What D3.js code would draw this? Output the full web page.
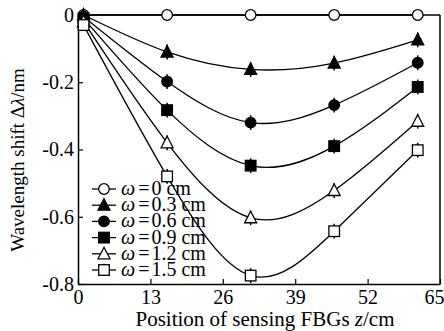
<!DOCTYPE html>
<html><head><meta charset="utf-8">
<script src="https://cdn.jsdelivr.net/npm/d3@7"></script>
<style>body{margin:0;background:#fff}svg{display:block}svg text{font-family:"Liberation Serif","Times New Roman",serif !important;fill:#000}</style>
</head><body><div id="c"></div>
<script>
const zPositions = [1, 16, 31, 46, 61];
const omegaLabels = ["0", "0.3", "0.6", "0.9", "1.2", "1.5"];
const markerTypes = ["circleOpen", "triangleFilled", "circleFilled", "squareFilled", "triangleOpen", "squareOpen"];
const shift0  = [0, 0, 0, 0, 0];
const shift03 = [0, -0.11, -0.162, -0.143, -0.074];
const shift06 = [-0.005, -0.198, -0.32, -0.268, -0.142];
const shift09 = [-0.01, -0.283, -0.448, -0.39, -0.214];
const shift12 = [-0.02, -0.38, -0.603, -0.522, -0.316];
const shift15 = [-0.03, -0.48, -0.775, -0.643, -0.402];
const errBar = [0, 0.022, 0.022, 0.022, 0.022, 0.022];
const xTicks = [0, 13, 26, 39, 52, 65];
const yTicks = [0, -0.2, -0.4, -0.6, -0.8];
const seriesValues = [shift0, shift03, shift06, shift09, shift12, shift15];

const W = 444, H = 331;
const svg = d3.select("#c").append("svg").attr("width", W).attr("height", H);
const x = d3.scaleLinear().domain([0, 65]).range([78, 440]);
const y = d3.scaleLinear().domain([-0.8, 0]).range([284, 15]);

svg.append("line").attr("x1", 78).attr("x2", 440).attr("y1", 15).attr("y2", 15).attr("stroke", "#000").attr("stroke-width", 1.5);
svg.append("line").attr("x1", 440).attr("x2", 440).attr("y1", 15).attr("y2", 284).attr("stroke", "#000").attr("stroke-width", 1.5);

const xAxis = svg.append("g").attr("transform", "translate(0,284)")
  .call(d3.axisBottom(x).tickValues(xTicks).tickSizeInner(-5).tickSizeOuter(0).tickPadding(8).tickFormat(d => String(d)));
const yAxis = svg.append("g").attr("transform", "translate(78,0)")
  .call(d3.axisLeft(y).tickValues(yTicks).tickSizeInner(-5).tickSizeOuter(0).tickPadding(4)
    .tickFormat(d => d === 0 ? "0" : "-" + Math.abs(d).toFixed(1)));
[xAxis, yAxis].forEach(g => {
  g.attr("font-family", null).attr("font-size", null);
  g.select(".domain").attr("stroke", "#000").attr("stroke-width", 1.5);
  g.selectAll(".tick line").attr("stroke", "#000").attr("stroke-width", 1.2);
  g.selectAll(".tick text").attr("font-size", 20);
});
xAxis.selectAll(".tick text").attr("y", 6)
  .attr("text-anchor", d => d === 65 ? "end" : "middle")
  .attr("dx", d => d === 65 ? 4 : 0);

svg.append("text").attr("x", 265).attr("y", 326).attr("text-anchor", "middle").attr("font-size", 21)
  .html('Position of sensing FBGs <tspan font-style="italic">z</tspan>/cm');
svg.append("text").attr("transform", "translate(24,160) rotate(-90)").attr("text-anchor", "middle").attr("font-size", 19)
  .html('Wavelength shift Δ<tspan font-style="italic">λ</tspan>/nm');

const line = d3.line().x(d => x(d[0])).y(d => y(d[1])).curve(d3.curveNatural);

function drawMarker(g, type, cx, cy) {
  const filled = type.endsWith("Filled");
  const fill = filled ? "#000" : "#fff";
  if (type.startsWith("circle")) {
    g.append("circle").attr("cx", cx).attr("cy", cy).attr("r", 5.3).attr("fill", fill).attr("stroke", "#000").attr("stroke-width", 1.3);
  } else if (type.startsWith("square")) {
    g.append("rect").attr("x", cx - 5.3).attr("y", cy - 5.3).attr("width", 10.6).attr("height", 10.6).attr("fill", fill).attr("stroke", "#000").attr("stroke-width", 1.3);
  } else {
    g.append("path").attr("d", `M${cx},${cy - 6.5}L${cx + 6},${cy + 5}L${cx - 6},${cy + 5}Z`).attr("fill", fill).attr("stroke", "#000").attr("stroke-width", 1.3);
  }
}

seriesValues.forEach((vals, i) => {
  const pts = zPositions.map((z, j) => [z, vals[j]]);
  const g = svg.append("g");
  g.append("path").attr("d", line(pts)).attr("fill", "none").attr("stroke", "#000").attr("stroke-width", 1.3);
  pts.forEach(p => {
    if (errBar[i] > 0 && p[0] > 5) {
      g.append("line").attr("x1", x(p[0])).attr("x2", x(p[0]))
        .attr("y1", y(p[1] - errBar[i])).attr("y2", y(p[1] + errBar[i])).attr("stroke", "#000").attr("stroke-width", 1.5);
    }
  });
  pts.forEach(p => drawMarker(g, markerTypes[i], x(p[0]), y(p[1])));
});

const leg = svg.append("g");
omegaLabels.forEach((lab, i) => {
  const cy = 189 + i * 16.2;
  leg.append("line").attr("x1", 92).attr("x2", 116).attr("y1", cy).attr("y2", cy).attr("stroke", "#000").attr("stroke-width", 1.3);
  drawMarker(leg, markerTypes[i], 104, cy);
  leg.append("text").attr("x", 121).attr("y", cy + 6).attr("font-size", 20)
    .html(`<tspan font-style="italic">ω</tspan><tspan dx="3">=</tspan><tspan dx="2">${lab} cm</tspan>`);
});
</script></body></html>
